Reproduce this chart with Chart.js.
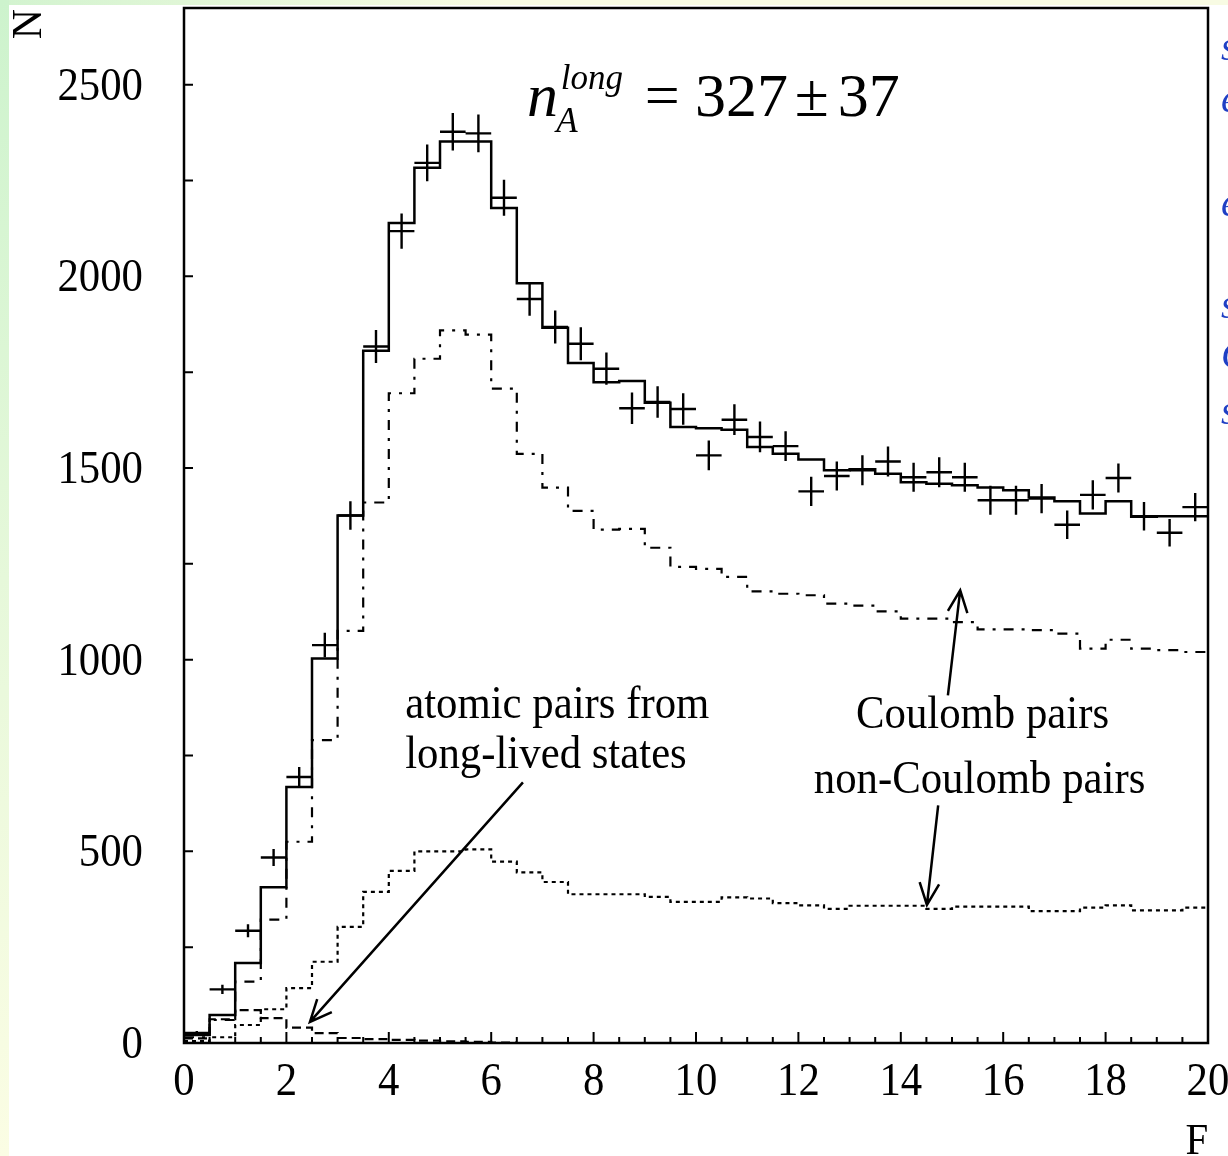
<!DOCTYPE html>
<html>
<head>
<meta charset="utf-8">
<script src="https://cdn.jsdelivr.net/npm/chart.js@4.4.1/dist/chart.umd.min.js"></script>
<style>
  html, body { margin: 0; padding: 0; background: #fff; }
  #wrap { width: 1228px; height: 1156px; }
</style>
</head>
<body>
<div id="wrap"><canvas id="myChart" width="1228" height="1156"></canvas></div>
<script>
// bins of F (left edges, width 0.5)
const binLow = [0, 0.5, 1, 1.5, 2, 2.5, 3, 3.5, 4, 4.5, 5, 5.5, 6, 6.5, 7, 7.5, 8, 8.5, 9, 9.5,
                10, 10.5, 11, 11.5, 12, 12.5, 13, 13.5, 14, 14.5, 15, 15.5, 16, 16.5, 17, 17.5, 18, 18.5, 19, 19.5];
const binWidth = 0.5;

// experimental points and their error bars
const dataCounts = [26, 140, 293, 484, 694, 1038, 1376, 1817, 2118, 2296, 2377, 2373, 2205, 1941, 1868, 1824, 1759, 1656, 1672, 1654,
                    1533, 1626, 1581, 1557, 1439, 1479, 1494, 1517, 1476, 1489, 1476, 1416, 1416, 1420, 1352, 1430, 1474, 1374, 1331, 1398];
const dataErr = [5, 12, 17, 22, 26, 32, 37, 43, 46, 48, 49, 49, 47, 44, 43, 43, 42, 41, 41, 41,
                 39, 40, 40, 39, 38, 38, 39, 39, 38, 39, 38, 38, 38, 38, 37, 38, 38, 37, 36, 37];

// fitted sum (Coulomb + non-Coulomb)
const modelTotal = [21, 73, 209, 406, 668, 1003, 1376, 1806, 2139, 2283, 2352, 2352, 2178, 1982, 1866, 1774, 1724, 1727, 1670, 1607,
                    1604, 1600, 1555, 1537, 1522, 1494, 1497, 1485, 1463, 1459, 1455, 1449, 1442, 1423, 1413, 1381, 1413, 1373, 1374, 1374];
const coulomb = [15, 60, 160, 322, 525, 790, 1075, 1410, 1695, 1785, 1859, 1848, 1707, 1537, 1449, 1388, 1339, 1341, 1292, 1242,
                 1237, 1216, 1178, 1172, 1168, 1146, 1141, 1126, 1107, 1107, 1098, 1079, 1079, 1077, 1068, 1029, 1052, 1029, 1025, 1020];
const nonCoulomb = [5, 15, 47, 88, 143, 212, 303, 394, 449, 500, 500, 505, 473, 445, 420, 388, 388, 388, 381, 368,
                    368, 380, 377, 365, 359, 350, 358, 358, 358, 350, 356, 356, 356, 344, 344, 353, 359, 346, 346, 353];
const atomic = [12, 62, 86, 65, 40, 26, 13, 10, 8, 6, 4, 3, 1];

const xTickLabels = [0, 2, 4, 6, 8, 10, 12, 14, 16, 18, 20];
const yTickLabels = [0, 500, 1000, 1500, 2000, 2500];
const yMinorTicks = [250, 750, 1250, 1750, 2250];

const SERIF = "'Liberation Serif', 'DejaVu Serif', serif";

function stepPoints(vals) {
  const pts = vals.map((v, i) => ({ x: binLow[i], y: v }));
  pts.push({ x: binLow[vals.length - 1] + binWidth, y: vals[vals.length - 1] });
  return pts;
}

function txt(ctx, s, x, y, font, align, sx) {
  ctx.save();
  ctx.font = font;
  ctx.textAlign = align || 'left';
  ctx.textBaseline = 'alphabetic';
  ctx.translate(x, y);
  ctx.scale(sx || 1, 1);
  ctx.fillText(s, 0, 0);
  ctx.restore();
}

function arrow(ctx, x0, y0, x1, y1) {
  const ang = Math.atan2(y1 - y0, x1 - x0);
  const len = 24, spread = 0.42;
  ctx.beginPath();
  ctx.moveTo(x0, y0);
  ctx.lineTo(x1, y1);
  ctx.moveTo(x1 - len * Math.cos(ang - spread), y1 - len * Math.sin(ang - spread));
  ctx.lineTo(x1, y1);
  ctx.lineTo(x1 - len * Math.cos(ang + spread), y1 - len * Math.sin(ang + spread));
  ctx.stroke();
}

const decor = {
  id: 'decor',
  beforeDraw(chart) {
    const { ctx, width, height } = chart;
    ctx.save();
    const gl = ctx.createLinearGradient(0, 0, 0, height);
    gl.addColorStop(0, '#cdf3cd');
    gl.addColorStop(0.5, '#e6f8da');
    gl.addColorStop(1, '#fbfde4');
    ctx.fillStyle = gl;
    ctx.fillRect(0, 0, 9, height);
    const gt = ctx.createLinearGradient(0, 0, 500, 0);
    gt.addColorStop(0, '#d2f3cf');
    gt.addColorStop(1, '#f8fbe3');
    ctx.fillStyle = gt;
    ctx.fillRect(9, 0, width - 9, 5);
    ctx.fillStyle = '#ffffff';
    ctx.fillRect(9, 5, width - 9, height - 5);
    ctx.restore();
  },
  afterDatasetsDraw(chart) {
    const { ctx, chartArea: a, scales: { x, y } } = chart;
    const P = (xv, yv) => [x.getPixelForValue(xv), y.getPixelForValue(yv)];
    ctx.save();
    ctx.strokeStyle = '#000';
    ctx.fillStyle = '#000';

    // data crosses: horizontal bar = bin width, vertical bar = error
    ctx.lineWidth = 2.4;
    ctx.beginPath();
    dataCounts.forEach((v, i) => {
      const [xl, cy] = P(binLow[i], v);
      const [xr] = P(binLow[i] + binWidth, v);
      const [cx, yLo] = P(binLow[i] + binWidth / 2, v - dataErr[i]);
      const [, yHi] = P(binLow[i] + binWidth / 2, v + dataErr[i]);
      ctx.moveTo(xl, cy); ctx.lineTo(xr, cy);
      ctx.moveTo(cx, yLo); ctx.lineTo(cx, yHi);
    });
    ctx.stroke();

    // frame
    ctx.lineWidth = 2.5;
    ctx.strokeRect(a.left, a.top, a.right - a.left, a.bottom - a.top);

    // inward ticks
    ctx.lineWidth = 2;
    ctx.beginPath();
    binLow.concat([20]).forEach(v => {
      const px = x.getPixelForValue(v);
      const len = xTickLabels.includes(v) ? 11 : 6;
      ctx.moveTo(px, a.bottom); ctx.lineTo(px, a.bottom - len);
    });
    yTickLabels.concat(yMinorTicks).forEach(v => {
      const py = y.getPixelForValue(v);
      ctx.moveTo(a.left, py); ctx.lineTo(a.left + 9, py);
    });
    ctx.stroke();

    // tick labels
    const tickFont = '46px ' + SERIF;
    xTickLabels.forEach(v => {
      txt(ctx, String(v), x.getPixelForValue(v), a.bottom + 52, tickFont, 'center', 0.93);
    });
    yTickLabels.forEach(v => {
      txt(ctx, String(v), a.left - 41, y.getPixelForValue(v) + 15, tickFont, 'right', 0.93);
    });

    // axis titles
    txt(ctx, 'F', a.right - 11, 1154, '44px ' + SERIF, 'center', 0.93);
    ctx.save();
    ctx.translate(41, 24);
    ctx.rotate(-Math.PI / 2);
    ctx.font = '42px ' + SERIF;
    ctx.textAlign = 'center';
    ctx.fillText('N', 0, 0);
    ctx.restore();

    // result n_A^long = 327 ± 37
    let p = P(6.7, 2419);
    txt(ctx, 'n', p[0], p[1], 'italic 62px ' + SERIF, 'left', 1);
    p = P(7.36, 2490);
    txt(ctx, 'long', p[0], p[1], 'italic 35px ' + SERIF, 'left', 1);
    p = P(7.27, 2377);
    txt(ctx, 'A', p[0], p[1], 'italic 35px ' + SERIF, 'left', 1);
    p = P(9.0, 2419);
    txt(ctx, '=', p[0], p[1], '62px ' + SERIF, 'left', 1);
    p = P(9.98, 2419);
    txt(ctx, '327', p[0], p[1], '62px ' + SERIF, 'left', 1);
    p = P(11.93, 2419);
    txt(ctx, '±', p[0], p[1], '62px ' + SERIF, 'left', 1);
    p = P(12.77, 2419);
    txt(ctx, '37', p[0], p[1], '62px ' + SERIF, 'left', 1);

    // annotations
    const noteFont = '46px ' + SERIF;
    p = P(4.32, 847);
    txt(ctx, 'atomic pairs from', p[0], p[1], noteFont, 'left', 0.93);
    p = P(4.32, 717);
    txt(ctx, 'long-lived states', p[0], p[1], noteFont, 'left', 0.93);
    p = P(13.125, 821);
    txt(ctx, 'Coulomb pairs', p[0], p[1], noteFont, 'left', 0.93);
    p = P(12.3, 652);
    txt(ctx, 'non-Coulomb pairs', p[0], p[1], noteFont, 'left', 0.93);

    ctx.lineWidth = 2.5;
    let s = P(6.62, 680), e = P(2.46, 55);
    arrow(ctx, s[0], s[1], e[0], e[1]);
    s = P(14.92, 907); e = P(15.16, 1181);
    arrow(ctx, s[0], s[1], e[0], e[1]);
    s = P(14.73, 620); e = P(14.51, 360);
    arrow(ctx, s[0], s[1], e[0], e[1]);

    // cut-off slide text at the right edge
    ctx.fillStyle = '#1f3fc4';
    [['s', 60], ['e', 112], ['e', 216], ['s', 318], ['C', 368], ['s', 424]].forEach(([t, yy]) => {
      txt(ctx, t, 1221, yy, 'italic 40px ' + SERIF, 'left', 1);
    });
    ctx.restore();
  }
};

const ctx = document.getElementById('myChart').getContext('2d');
new Chart(ctx, {
  type: 'line',
  data: {
    datasets: [
      {
        label: 'fit',
        data: stepPoints(modelTotal),
        stepped: 'before',
        borderColor: '#000',
        borderWidth: 2.5,
        pointRadius: 0,
        fill: false
      },
      {
        label: 'Coulomb pairs',
        data: stepPoints(coulomb),
        stepped: 'before',
        borderColor: '#000',
        borderWidth: 2.2,
        borderDash: [10, 8, 3, 8],
        pointRadius: 0,
        fill: false
      },
      {
        label: 'non-Coulomb pairs',
        data: stepPoints(nonCoulomb),
        stepped: 'before',
        borderColor: '#000',
        borderWidth: 2.2,
        borderDash: [4, 4],
        pointRadius: 0,
        fill: false
      },
      {
        label: 'atomic pairs from long-lived states',
        data: stepPoints(atomic),
        stepped: 'before',
        borderColor: '#000',
        borderWidth: 2.2,
        borderDash: [9, 5],
        pointRadius: 0,
        fill: false
      },
      {
        type: 'scatter',
        label: 'data',
        data: dataCounts.map((v, i) => ({ x: binLow[i] + binWidth / 2, y: v })),
        pointRadius: 0,
        showLine: false
      }
    ]
  },
  options: {
    responsive: false,
    animation: false,
    layout: { padding: { top: 8, right: 20, left: 0, bottom: 0 } },
    plugins: {
      legend: { display: false },
      tooltip: { enabled: false },
      title: { display: false }
    },
    scales: {
      x: {
        type: 'linear',
        min: 0,
        max: 20,
        ticks: { display: false },
        grid: { display: false },
        border: { display: false },
        afterFit: s => { s.height = 113; }
      },
      y: {
        type: 'linear',
        min: 0,
        max: 2700,
        ticks: { display: false },
        grid: { display: false },
        border: { display: false },
        afterFit: s => { s.width = 184; }
      }
    }
  },
  plugins: [decor]
});
</script>
</body>
</html>
